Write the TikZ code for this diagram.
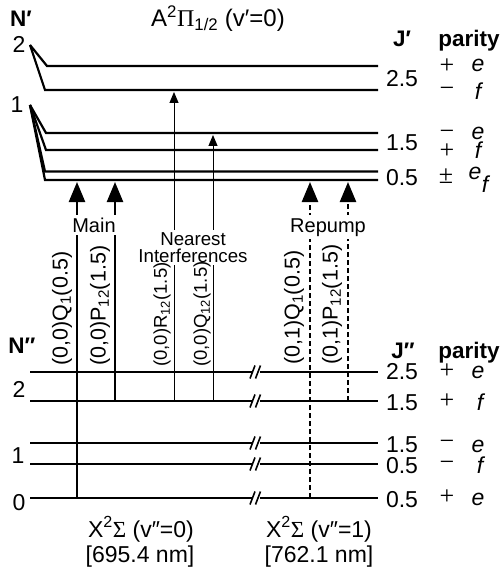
\documentclass[tikz,border=0pt]{standalone}
\usepackage{fontspec}
\setmainfont{Liberation Sans}
\newfontfamily\grk{Liberation Serif}
\usetikzlibrary{arrows.meta}
\tikzset{
  lvl/.style={line width=2.2pt, line join=miter},
  brk/.style={line width=1.6pt},
  mainarr/.style={line width=2.4pt, -{Triangle[width=16pt,length=20pt]}},
  thinarr/.style={line width=1pt, -{Triangle[width=9pt,length=11pt]}},
  reparr/.style={line width=2.4pt, dash pattern=on 5pt off 3pt, -{Triangle[width=16pt,length=20pt]}},
  lab/.style={font=\fontsize{23}{25}\selectfont, inner sep=0pt, anchor=base},
  ttl/.style={font=\fontsize{24}{26}\selectfont, inner sep=0pt, anchor=base},
  hdr/.style={font=\fontsize{22.5}{24}\selectfont\bfseries, inner sep=0pt, anchor=base},
  par/.style={font=\fontsize{23}{25}\selectfont\itshape, inner sep=0pt, anchor=base, text depth=0pt},
  sgn/.style={font=\fontsize{26}{28}\selectfont\grk, inner sep=0pt, anchor=center, text height=13pt, text depth=0pt},
  grp/.style={font=\fontsize{20}{24}\selectfont, inner sep=3pt, anchor=base, fill=white},
  nrst/.style={font=\fontsize{18.7}{20}\selectfont, inner sep=2.5pt, anchor=base, fill=white},
  rotbig/.style={font=\fontsize{21.5}{23}\selectfont, inner sep=0pt, rotate=90, anchor=west},
  rotsmall/.style={font=\fontsize{18.5}{20}\selectfont, inner sep=0pt, rotate=90, anchor=west},
}
\newcommand{\brkmark}[1]{%
  \draw[lvl] (30,#1) -- (251.5,#1);
  \draw[lvl] (259.5,#1) -- (378,#1);
  \draw[brk] (250,#1+6.5) -- (255,#1-6.5);
  \draw[brk] (255.5,#1+6.5) -- (260.5,#1-6.5);
}
\begin{document}
\begin{tikzpicture}[x=1pt,y=-1pt]
\useasboundingbox (0,0) rectangle (500,572);

% ---------- upper state ----------
\coordinate (apexB) at (30,45);
\coordinate (apexA) at (30,105);
\draw[lvl] (apexB) -- (47,66) -- (378,66);
\draw[lvl] (apexB) -- (45,90) -- (378,90);
\draw[lvl] (apexA) -- (46,133) -- (378,133);
\draw[lvl] (apexA) -- (46,150) -- (378,150);
\draw[lvl] (apexA) -- (45,171.5) -- (378,171.5);
\draw[lvl] (apexA) -- (45,180) -- (378,180);

\node[hdr] (Np) at (21,27) {N′};
\node[lab] (n2u) at (19,53) {2};
\node[lab] (n1u) at (17,113) {1};
\node[ttl] (title) at (218,27) {A\textsuperscript{2}{\grk Π}\textsubscript{1/2} (v′=0)};
\node[hdr] (Jp) at (402,47) {J′};
\node[hdr] (parU) at (469,47) {parity};

\node[lab] (ju25) at (402,87) {2.5};
\node[sgn] (su1) at (447,67) {+};
\node[sgn] (su2) at (447,90) {−};
\node[par] (pu1) at (478,72) {e};
\node[par] (pu2) at (478,100) {f};

\node[lab] (ju15) at (402,150) {1.5};
\node[sgn] (su3) at (447,133) {−};
\node[sgn] (su4) at (447,152) {+};
\node[par] (pu3) at (478,140) {e};
\node[par] (pu4) at (478,158) {f};

\node[lab] (ju05) at (402,185) {0.5};
\node[sgn] (su5) at (446,177) {±};
\node[par] (pu5) at (475,179) {e};
\node[par] (pu6) at (485,192) {f};

% ---------- lower state ----------
\brkmark{372}
\brkmark{401}
\brkmark{443}
\brkmark{464}
\brkmark{498}

\node[hdr] (Npp) at (22,353) {N″};
\node[lab] (n2l) at (19,397) {2};
\node[lab] (n1l) at (18,463) {1};
\node[lab] (n0l) at (19,510) {0};
\node[hdr] (Jpp) at (403,358) {J″};
\node[hdr] (parL) at (469,358) {parity};

\node[lab] (jl1) at (402,379) {2.5};
\node[sgn] (sl1) at (447,372) {+};
\node[par] (pl1) at (478,378) {e};
\node[lab] (jl2) at (402,410) {1.5};
\node[sgn] (sl2) at (447,402) {+};
\node[par] (pl2) at (480,410) {f};
\node[lab] (jl3) at (402,452) {1.5};
\node[sgn] (sl3) at (447,443) {−};
\node[par] (pl3) at (478,452) {e};
\node[lab] (jl4) at (402,473) {0.5};
\node[sgn] (sl4) at (447,464) {−};
\node[par] (pl4) at (480,473) {f};
\node[lab] (jl5) at (402,507) {0.5};
\node[sgn] (sl5) at (447,498) {+};
\node[par] (pl5) at (478,505) {e};

\node[lab] (x0) at (141,537) {X\textsuperscript{2}{\grk Σ} (v″=0)};
\node[lab] (w0) at (140,562) {[695.4 nm]};
\node[lab] (x1) at (319,537) {X\textsuperscript{2}{\grk Σ} (v″=1)};
\node[lab] (w1) at (319,562) {[762.1 nm]};

% ---------- transitions ----------
\coordinate (q1lo) at (77,498);   \coordinate (q1hi) at (77,182);
\coordinate (p12lo) at (115,401); \coordinate (p12hi) at (115,182);
\coordinate (r12lo) at (174,401); \coordinate (r12hi) at (174,92);
\coordinate (q12lo) at (213,401); \coordinate (q12hi) at (213,135);
\coordinate (rq1lo) at (310,498); \coordinate (rq1hi) at (310,182);
\coordinate (rp12lo) at (348,401);\coordinate (rp12hi) at (348,182);

\draw[mainarr] (q1lo) -- (q1hi);
\draw[mainarr] (p12lo) -- (p12hi);
\draw[thinarr] (r12lo) -- (r12hi);
\draw[thinarr] (q12lo) -- (q12hi);
\draw[reparr] (rq1lo) -- (rq1hi);
\draw[reparr] (rp12lo) -- (rp12hi);

\node[grp] (mainlab) at (94,232) {Main};
\node[nrst] (near1) at (193,245) {Nearest};
\node[nrst] (near2) at (193,262) {Interferences};
\node[grp] (replab) at (328,232) {Repump};

\node[rotbig] (tq1) at (62,366) {(0,0)Q\textsubscript{1}(0.5)};
\node[rotbig] (tp12) at (100,366) {(0,0)P\textsubscript{12}(1.5)};
\node[rotsmall] (tr12) at (162,367) {(0,0)R\textsubscript{12}(1.5)};
\node[rotsmall] (tq12) at (202,367) {(0,0)Q\textsubscript{12}(1.5)};
\node[rotbig] (trq1) at (294,365) {(0,1)Q\textsubscript{1}(0.5)};
\node[rotbig] (trp12) at (332,365) {(0,1)P\textsubscript{12}(1.5)};
\end{tikzpicture}
\end{document}
